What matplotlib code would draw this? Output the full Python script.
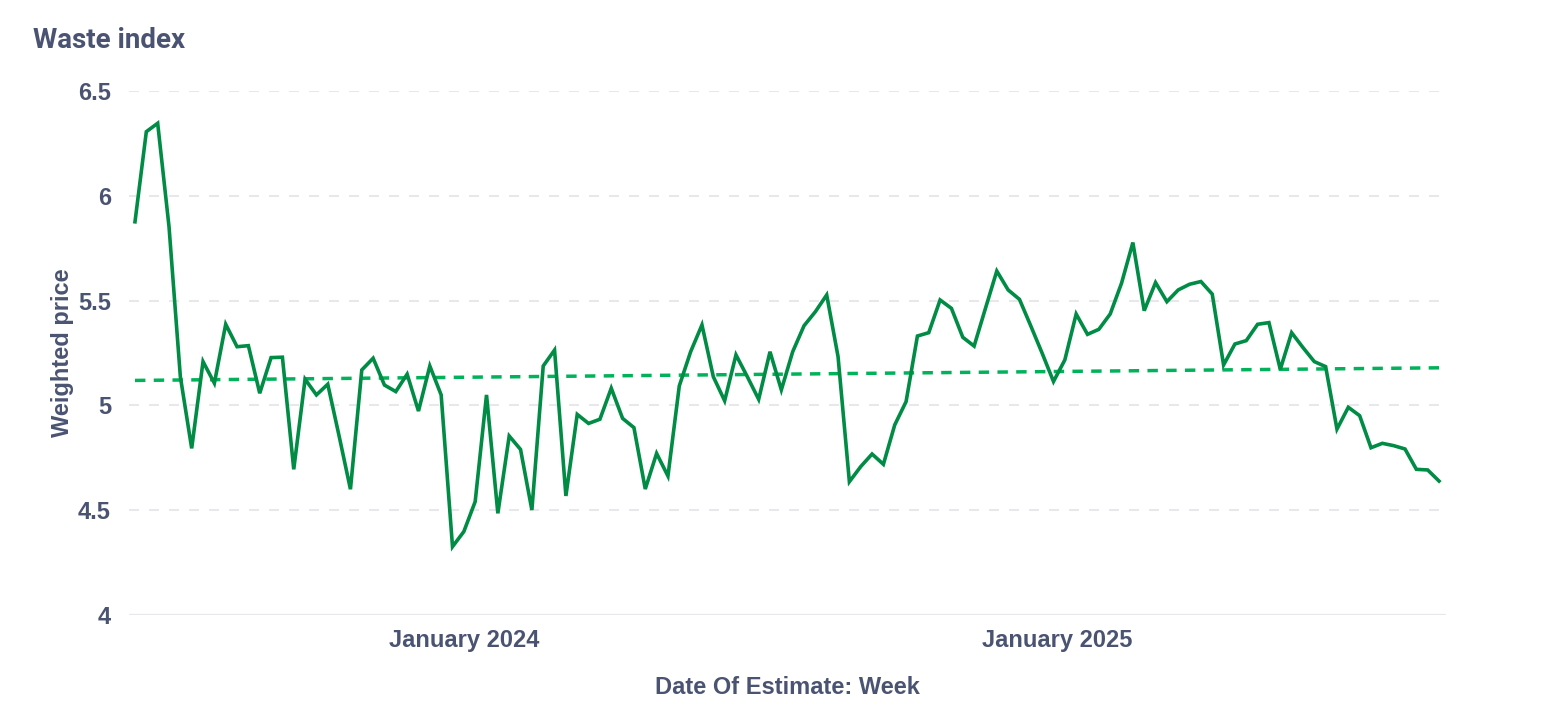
import numpy as np
import pandas as pd
import matplotlib
matplotlib.use("Agg")
import matplotlib.pyplot as plt
import matplotlib.dates as mdates

# ---- data ----
start_week = "2023-06-12"
weighted_price = [
    5.876, 6.306, 6.346, 5.853, 5.137, 4.795, 5.209, 5.106, 5.387, 5.280,
    5.285, 5.058, 5.228, 5.230, 4.695, 5.125, 5.050, 5.101, 4.854, 4.600,
    5.169, 5.225, 5.097, 5.066, 5.149, 4.973, 5.188, 5.050, 4.326, 4.398,
    4.541, 5.050, 4.485, 4.854, 4.790, 4.501, 5.188, 5.264, 4.568, 4.957,
    4.914, 4.934, 5.082, 4.938, 4.894, 4.601, 4.771, 4.663, 5.093, 5.256,
    5.384, 5.137, 5.022, 5.241, 5.137, 5.029, 5.256, 5.074, 5.256, 5.380,
    5.447, 5.527, 5.233, 4.636, 4.708, 4.768, 4.719, 4.907, 5.018, 5.331,
    5.347, 5.503, 5.463, 5.325, 5.283, 5.463, 5.641, 5.551, 5.506, 5.379,
    5.249, 5.114, 5.217, 5.436, 5.339, 5.363, 5.436, 5.583, 5.777, 5.452,
    5.586, 5.495, 5.551, 5.578, 5.591, 5.531, 5.193, 5.293, 5.309, 5.387,
    5.395, 5.172, 5.347, 5.276, 5.209, 5.185, 4.887, 4.991, 4.951, 4.798,
    4.819, 4.808, 4.792, 4.695, 4.692, 4.639,
]
y_ticks = [4, 4.5, 5, 5.5, 6, 6.5]
y_tick_labels = ["4", "4.5", "5", "5.5", "6", "6.5"]
x_ticks = ["2024-01-01", "2025-01-01"]
x_tick_labels = ["January 2024", "January 2025"]
title = "Waste index"
y_label = "Weighted price"
x_label = "Date Of Estimate: Week"

# ---- derived ----
dates = pd.date_range(start_week, periods=len(weighted_price), freq="7D")
xnum = mdates.date2num(dates)
vals = np.array(weighted_price)
coef = np.polyfit(xnum, vals, 1)
trend = np.polyval(coef, xnum)

TEXT = "#4a5472"
LINE = "#008c45"
TREND = "#00b25a"
GRID = "#e8e8ec"

plt.rcParams["lines.scale_dashes"] = False
fig = plt.figure(figsize=(15.68, 7.23), dpi=100)
ax = fig.add_axes([129 / 1568, 1 - 615 / 723, (1446 - 129) / 1568, (615 - 91) / 723])

for t in y_ticks:
    if t == y_ticks[0]:
        ax.axhline(t, color=GRID, lw=1.6, zorder=1)
    else:
        ax.axhline(t, color=GRID, lw=1.5, dashes=(7.2, 7.2), zorder=1)

ax.plot(dates, trend, color=TREND, lw=2.5, dashes=(7.5, 6.0), zorder=2)
ax.plot(dates, vals, color=LINE, lw=2.6, zorder=3, solid_joinstyle="miter")

ax.set_ylim(4, 6.5)
ax.set_xlim(xnum[0] - 3.7, xnum[-1] + 4.3)

tick_font = dict(family=["Liberation Sans", "DejaVu Sans"], weight="bold", size=17, color=TEXT)
ax.set_yticks(y_ticks)
ax.set_yticklabels(y_tick_labels, **tick_font)
ax.set_xticks(mdates.date2num(pd.to_datetime(x_ticks)))
ax.set_xticklabels(x_tick_labels, **tick_font)
ax.tick_params(axis="both", length=0)
ax.tick_params(axis="y", pad=13)
ax.tick_params(axis="x", pad=10)

for s in ax.spines.values():
    s.set_visible(False)

ax.set_ylabel(y_label, fontfamily=["Liberation Sans", "DejaVu Sans"], fontweight="bold",
              fontsize=17, color=TEXT, labelpad=3)
ax.set_xlabel(x_label, fontfamily=["Liberation Sans", "DejaVu Sans"], fontweight="bold",
              fontsize=17, color=TEXT, labelpad=17)

fig.text(33 / 1568, 1 - 48 / 723, title, fontfamily=["Roboto", "DejaVu Sans"], fontweight="bold",
         fontsize=20, color=TEXT, ha="left", va="baseline")

fig.savefig("out.png", dpi=100, facecolor="white")
